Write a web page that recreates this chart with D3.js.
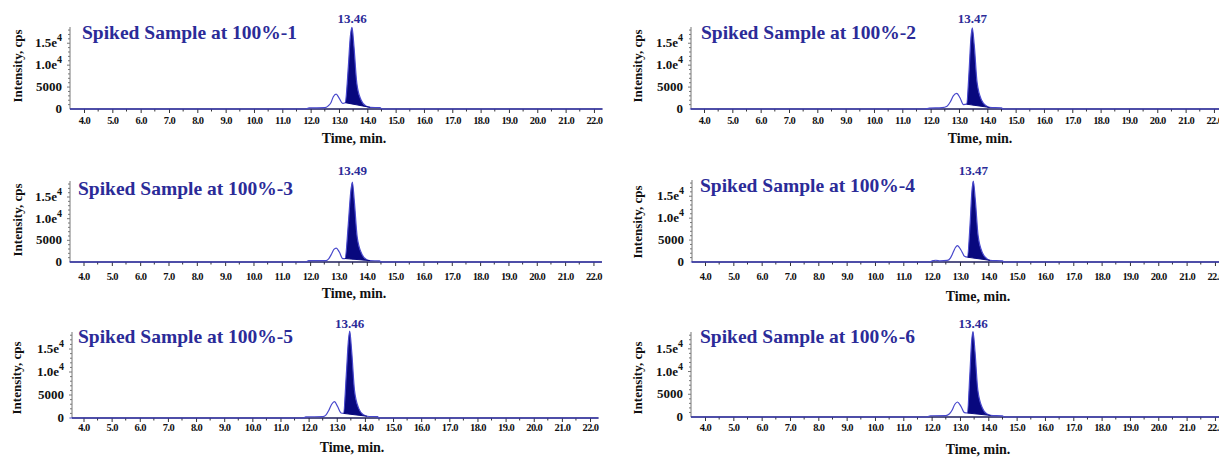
<!DOCTYPE html>
<html>
<head>
<meta charset="utf-8">
<script src="https://cdn.jsdelivr.net/npm/d3@7"></script>
<style>
    body { margin: 0; background: #ffffff; }
    svg { display: block; }
    svg text { font-family: "Liberation Serif", "DejaVu Serif", serif; }
</style>
</head>
<body>
<svg id="chart" width="1219" height="457"></svg>
<script>
"use strict";

// values
const sample_names = [
    "Spiked Sample at 100%-1", "Spiked Sample at 100%-2",
    "Spiked Sample at 100%-3", "Spiked Sample at 100%-4",
    "Spiked Sample at 100%-5", "Spiked Sample at 100%-6"
];
const peak_labels = ["13.46", "13.47", "13.49", "13.47", "13.46", "13.46"];
const time_ticks = [4.0, 5.0, 6.0, 7.0, 8.0, 9.0, 10.0, 11.0, 12.0, 13.0, 14.0, 15.0, 16.0, 17.0, 18.0, 19.0, 20.0, 21.0, 22.0];
const intensity_ticks = [0, 5000, 10000, 15000];
const intensity_labels = [["0", ""], ["5000", ""], ["1.0e", "4"], ["1.5e", "4"]];

// [time, intensity]
const trace_1 = [[3.5, 0], [11.8, 0], [11.95, 250], [12.5, 300], [12.62, 700], [12.72, 1500], [12.8, 2800], [12.9, 3400],
    [13.01, 2430], [13.13, 1290], [13.22, 1440], [13.33, 9600], [13.4, 16450], [13.46, 18600], [13.53, 14170],
    [13.63, 5840], [13.78, 2050], [13.95, 680], [14.1, 380], [14.45, 300], [14.52, 0], [22.3, 0]];
const trace_2 = [[3.5, 0], [11.8, 0], [11.95, 200], [12.4, 300], [12.58, 650], [12.7, 1700], [12.8, 3000], [12.92, 3560],
    [13.04, 2500], [13.16, 1000], [13.27, 1100], [13.36, 9000], [13.42, 16000], [13.47, 18500], [13.54, 14500],
    [13.64, 6000], [13.8, 2000], [13.97, 700], [14.08, 350], [14.5, 250], [14.56, 0], [22.3, 0]];
const trace_3 = [[3.5, 0], [11.85, 0], [11.95, 300], [12.55, 320], [12.66, 800], [12.76, 1900], [12.84, 2900], [12.92, 3200],
    [13.03, 2300], [13.15, 800], [13.23, 800], [13.35, 9000], [13.43, 16000], [13.49, 18450], [13.56, 14000],
    [13.66, 5800], [13.82, 1900], [13.98, 600], [14.11, 330], [14.45, 250], [14.5, 0], [22.3, 0]];
const trace_4 = [[3.5, 0], [11.9, 0], [12.05, 300], [12.15, 400], [12.3, 250], [12.55, 350], [12.66, 900], [12.76, 2200],
    [12.84, 3300], [12.91, 3730], [13.03, 2800], [13.16, 1300], [13.26, 1100], [13.36, 9000], [13.42, 16000],
    [13.47, 18450], [13.54, 14300], [13.64, 6000], [13.8, 2000], [13.97, 650], [14.06, 380], [14.5, 250], [14.55, 0], [22.3, 0]];
const trace_5 = [[3.5, 0], [11.8, 0], [11.9, 250], [12.5, 300], [12.62, 700], [12.72, 1700], [12.82, 3000], [12.92, 3580],
    [13.03, 2500], [13.15, 1100], [13.24, 1000], [13.34, 9500], [13.41, 16500], [13.46, 18900], [13.53, 14500],
    [13.63, 6000], [13.78, 2100], [13.95, 700], [14.08, 380], [14.45, 280], [14.5, 0], [22.3, 0]];
const trace_6 = [[3.5, 0], [11.85, 0], [11.95, 280], [12.5, 300], [12.62, 650], [12.72, 1500], [12.82, 2800], [12.91, 3300],
    [13.03, 2400], [13.16, 950], [13.26, 880], [13.35, 9500], [13.41, 16500], [13.46, 18800], [13.53, 14400],
    [13.63, 5900], [13.79, 2000], [13.96, 650], [14.08, 350], [14.5, 250], [14.55, 0], [22.3, 0]];
const traces = [trace_1, trace_2, trace_3, trace_4, trace_5, trace_6];

// integrated peak: [start time, start intensity, end time, end intensity]
const peak_fill = [
    [13.22, 1440, 14.1, 380], [13.27, 1100, 14.08, 350], [13.23, 800, 14.11, 330],
    [13.26, 1100, 14.06, 380], [13.24, 1000, 14.08, 380], [13.26, 880, 14.08, 350]
];

// where each panel sits on the page
const panels = [
    { axis_x: 70, x4: 84, px_min: 28.33, top: 27, bottom: 109, title_x: 82, title_y: 39, peak_y: 23, tick_y: 124, time_x: 354, time_y: 143, ylab_x: 22, ylab_y: 66 },
    { axis_x: 691, x4: 704, px_min: 28.33, top: 27, bottom: 109, title_x: 701, title_y: 39, peak_y: 23, tick_y: 124, time_x: 980, time_y: 143, ylab_x: 642, ylab_y: 66 },
    { axis_x: 70, x4: 83.5, px_min: 28.33, top: 181, bottom: 262, title_x: 78, title_y: 195, peak_y: 175, tick_y: 280, time_x: 354, time_y: 298, ylab_x: 22, ylab_y: 220 },
    { axis_x: 692, x4: 705, px_min: 28.33, top: 180, bottom: 262, title_x: 700, title_y: 192, peak_y: 175, tick_y: 280, time_x: 978, time_y: 301, ylab_x: 642, ylab_y: 222 },
    { axis_x: 72, x4: 83.5, px_min: 28.14, top: 332, bottom: 418, title_x: 78, title_y: 343, peak_y: 328, tick_y: 431, time_x: 352, time_y: 452, ylab_x: 21, ylab_y: 378 },
    { axis_x: 691, x4: 705, px_min: 28.33, top: 332, bottom: 417, title_x: 700, title_y: 343, peak_y: 328, tick_y: 431, time_x: 978, time_y: 454, ylab_x: 642, ylab_y: 378 }
];

const serif = "Liberation Serif";
const title_color = "#2b2b98";
const trace_color = "#4848cc";
const fill_color = "#08087e";
const y_max = 18700;

const svg = d3.select("#chart");

panels.forEach(function (p, i) {
    const g = svg.append("g")
        .attr("class", "panel")
        .attr("font-family", serif);

    const x = d3.scaleLinear()
        .domain([4, 22])
        .range([p.x4, p.x4 + 18 * p.px_min]);
    const y = d3.scaleLinear()
        .domain([0, y_max])
        .range([p.bottom, p.top]);

    const x_end = x(22.3);

    // y axis: thin line with small minor ticks
    g.append("line")
        .attr("x1", p.axis_x).attr("x2", p.axis_x)
        .attr("y1", p.top).attr("y2", p.bottom)
        .attr("stroke", "#777").attr("stroke-width", 1);

    for (let v = 1000; v <= 18000; v += 1000) {
        g.append("line")
            .attr("x1", p.axis_x - (v % 5000 === 0 ? 3 : 2)).attr("x2", p.axis_x)
            .attr("y1", y(v)).attr("y2", y(v))
            .attr("stroke", "#777").attr("stroke-width", 1);
    }

    const y_labels = g.append("g");
    intensity_ticks.forEach(function (v, k) {
        const t = y_labels.append("text")
            .attr("x", p.axis_x - 8)
            .attr("y", y(v) + 4)
            .attr("text-anchor", "end")
            .attr("font-family", serif)
            .attr("font-size", 13)
            .attr("font-weight", "bold")
            .attr("fill", "#111");
        t.append("tspan").text(intensity_labels[k][0]);
        if (intensity_labels[k][1]) {
            t.append("tspan")
                .attr("font-size", 10)
                .attr("dy", -6)
                .text(intensity_labels[k][1]);
        }
    });

    // x axis
    const x_axis = d3.axisBottom(x)
        .tickValues(time_ticks)
        .tickFormat(d3.format(".1f"))
        .tickSize(4)
        .tickSizeOuter(0);
    const xg = g.append("g")
        .attr("transform", `translate(0, ${p.bottom})`)
        .call(x_axis)
        .attr("font-family", serif);
    xg.select(".domain").remove();
    xg.selectAll(".tick line").attr("stroke", "#333");
    xg.selectAll(".tick text")
        .attr("y", p.tick_y - p.bottom)
        .attr("dy", 0)
        .attr("font-family", serif)
        .attr("font-size", 10.5)
        .attr("font-weight", "bold")
        .attr("letter-spacing", -0.6)
        .attr("fill", "#111");

    const half_ticks = time_ticks.map(d => d + 0.5).filter(d => d < 22.3);
    g.selectAll(".minor")
        .data(half_ticks)
        .enter().append("line")
        .attr("x1", d => x(d)).attr("x2", d => x(d))
        .attr("y1", p.bottom).attr("y2", p.bottom + 2.5)
        .attr("stroke", "#333").attr("stroke-width", 1);

    g.append("line")
        .attr("x1", p.axis_x).attr("x2", x_end)
        .attr("y1", p.bottom).attr("y2", p.bottom)
        .attr("stroke", "#1c1c5c").attr("stroke-width", 1.6);

    // filled peak
    const f = peak_fill[i];
    const base = d3.scaleLinear().domain([f[0], f[2]]).range([f[1], f[3]]);
    const clip_id = "clip" + i;
    g.append("clipPath").attr("id", clip_id)
        .append("rect")
        .attr("x", x(f[0])).attr("width", x(f[2]) - x(f[0]))
        .attr("y", p.top - 5).attr("height", p.bottom - p.top + 5);

    const area = d3.area()
        .x(d => x(d[0]))
        .y0(d => y(base(d[0])))
        .y1(d => y(d[1]))
        .curve(d3.curveMonotoneX);

    g.append("path")
        .datum(traces[i])
        .attr("d", area)
        .attr("clip-path", `url(#${clip_id})`)
        .attr("fill", fill_color);

    const line = d3.line()
        .x(d => x(d[0]))
        .y(d => y(d[1]))
        .curve(d3.curveMonotoneX);

    g.append("path")
        .datum(traces[i])
        .attr("d", line)
        .attr("fill", "none")
        .attr("stroke", trace_color)
        .attr("stroke-width", 1.2);

    // integration baseline under the peak
    g.append("line")
        .attr("x1", x(f[0])).attr("x2", x(f[2]))
        .attr("y1", y(f[1])).attr("y2", y(f[3]))
        .attr("stroke", fill_color).attr("stroke-width", 1);

    // texts
    g.append("text")
        .attr("x", p.title_x)
        .attr("y", p.title_y)
        .attr("font-family", serif)
        .attr("font-size", 19.5)
        .attr("font-weight", "bold")
        .attr("fill", title_color)
        .text(sample_names[i]);

    g.append("text")
        .attr("x", x(+peak_labels[i]))
        .attr("y", p.peak_y)
        .attr("text-anchor", "middle")
        .attr("font-family", serif)
        .attr("font-size", 13)
        .attr("font-weight", "bold")
        .attr("fill", title_color)
        .text(peak_labels[i]);

    g.append("text")
        .attr("x", p.time_x)
        .attr("y", p.time_y)
        .attr("text-anchor", "middle")
        .attr("font-family", serif)
        .attr("font-size", 14)
        .attr("font-weight", "bold")
        .attr("fill", "#111")
        .text("Time, min.");

    g.append("text")
        .attr("transform", `translate(${p.ylab_x}, ${p.ylab_y}) rotate(-90)`)
        .attr("text-anchor", "middle")
        .attr("font-family", serif)
        .attr("font-size", 13)
        .attr("font-weight", "bold")
        .attr("fill", "#111")
        .text("Intensity, cps");
});
</script>
</body>
</html>
